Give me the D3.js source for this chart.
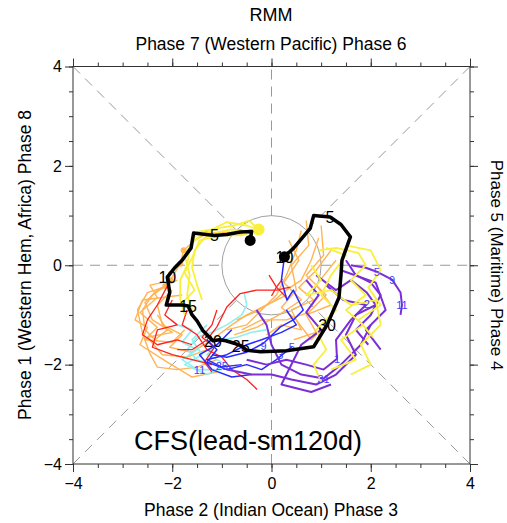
<!DOCTYPE html>
<html>
<head>
<meta charset="utf-8">
<script src="https://cdn.jsdelivr.net/npm/d3@7"></script>
<style>
  body { margin: 0; background: #fff; }
  svg { font-family: "Liberation Sans", Arial, sans-serif; }
</style>
</head>
<body>
<div id="chart"></div>
<script>
// observed RMM (black), days 1..31 then 1..10 of next month
var obs = [
  [-0.43,0.50],[-0.40,0.68],[-0.63,0.67],[-0.90,0.62],[-1.15,0.60],
  [-1.57,0.65],[-1.62,0.35],[-1.80,0.10],[-1.95,-0.05],[-2.10,-0.24],
  [-2.05,-0.55],[-2.12,-0.80],[-1.95,-0.80],[-1.80,-0.80],[-1.68,-0.82],
  [-1.60,-1.00],[-1.50,-1.12],[-1.38,-1.32],[-1.28,-1.42],[-1.18,-1.52],
  [-1.05,-1.50],[-0.92,-1.52],[-0.82,-1.55],[-0.72,-1.58],[-0.62,-1.62],
  [-0.50,-1.71],[-0.22,-1.74],[0.30,-1.72],[0.85,-1.64],[1.12,-1.20],
  [1.36,-0.65],[1.40,-0.20],[1.42,0.10],[1.59,0.57],[1.40,0.82],
  [1.18,0.97],[0.85,1.00],[0.78,0.74],[0.62,0.55],[0.45,0.35],[0.26,0.17]
];
var obsLabels = ["5","10","15","20","25","30","5","10"];
var obsLabelIdx = [4,9,14,19,24,29,35,40];

var orangeLines = [
  [[-0.35,0.72],[-0.63,0.67],[-1.0,0.66],[-1.3,0.64],[-1.55,0.5],[-1.77,0.3],[-1.84,0.03],[-2.04,-0.3],[-2.14,-0.42],[-2.4,-0.6],[-2.6,-0.9],[-2.55,-1.3],[-2.35,-1.5],[-2.1,-1.3],[-2.3,-1.0]],
  [[-2.05,-0.4],[-2.5,-0.55],[-2.7,-0.9],[-2.6,-1.37],[-2.45,-1.78],[-2.3,-2.05],[-1.9,-2.1],[-1.5,-2.05],[-1.1,-1.9]],
  [[-1.9,-0.3],[-2.3,-0.5],[-2.55,-0.75],[-2.4,-1.1],[-2.0,-1.35],[-2.5,-1.45],[-2.2,-1.8],[-1.7,-1.85],[-1.3,-1.7]],
  [[-2.0,-0.5],[-2.3,-0.8],[-2.2,-1.2],[-1.8,-1.4],[-2.05,-1.65],[-1.6,-1.75],[-1.2,-1.5],[-0.8,-1.2],[-0.5,-1.0],[-0.1,-0.8],[0.3,-0.6]],
  [[-1.8,-0.6],[-2.6,-0.7],[-2.75,-1.1],[-2.5,-1.25],[-2.65,-1.6],[-2.1,-1.95],[-1.6,-2.25],[-1.1,-2.15]],
  [[-2.2,-0.35],[-2.45,-0.4],[-2.3,-0.65],[-2.65,-0.95],[-2.3,-1.25],[-2.55,-1.5],[-2.0,-1.55],[-1.75,-1.3]],
  [[0.6,0.7],[0.5,0.3],[0.3,-0.2],[0.1,-0.6],[-0.2,-0.9],[-0.5,-1.2],[-0.9,-1.3]],
  [[0.95,0.55],[0.8,0.1],[0.6,-0.3],[0.3,-0.5],[0.0,-0.75],[-0.35,-0.95],[-0.7,-1.1]],
  [[1.2,0.3],[0.9,-0.1],[0.55,-0.45],[0.85,-0.7],[0.4,-0.9],[0.6,-1.3],[0.2,-1.2],[-0.1,-1.4]],
  [[0.7,0.9],[0.75,0.4],[0.4,0.0],[0.5,-0.5],[0.2,-0.85],[0.5,-1.1],[0.8,-1.5],[1.1,-1.2]],
  [[1.0,0.8],[1.05,0.2],[0.7,-0.2],[1.1,-0.6],[0.75,-0.95],[0.3,-1.1],[-0.2,-1.1],[-0.6,-1.3]],
  [[1.3,0.1],[0.9,-0.4],[1.2,-0.8],[0.7,-1.0],[0.9,-1.35],[0.45,-1.5]],
  [[0.35,0.5],[0.55,0.1],[0.25,-0.35],[0.6,-0.7],[0.15,-1.0],[-0.3,-1.25],[-0.75,-1.4]]
];
var orangeDots = [[-0.63,0.67],[-1.3,0.64],[-1.77,0.3],[-1.84,0.03],[-2.04,-0.3],[-2.14,-0.42]];

var cyanLines = [
  [[-0.55,-0.55],[-0.5,-0.8],[-0.6,-1.0],[-0.9,-1.2],[-1.2,-1.35],[-1.5,-1.45],[-1.7,-1.7],[-1.5,-1.9],[-1.2,-2.0]],
  [[-1.9,-1.2],[-1.6,-1.3],[-1.8,-1.55],[-1.5,-1.7],[-1.8,-1.9],[-1.5,-2.1],[-1.0,-2.1]],
  [[-1.3,-1.2],[-1.6,-1.5],[-1.4,-1.8],[-1.75,-2.0],[-1.3,-2.2],[-0.9,-2.0]],
  [[-0.1,-1.3],[-0.4,-1.35],[-0.7,-1.45],[-1.0,-1.5],[-1.3,-1.8],[-1.0,-1.95]]
];

var redLines = [
  [[0.38,-0.44],[0.1,-0.5],[-0.3,-0.5],[-0.63,-0.57],[-0.9,-0.84],[-1.1,-1.24],[-1.3,-1.5],[-1.6,-1.7],[-1.9,-1.7]],
  [[-0.05,-0.2],[0.1,-0.44],[0.3,-0.65]],
  [[0.0,-0.62],[0.1,-0.44],[0.22,-0.28]],
  [[-2.1,-0.42],[-2.3,-0.8],[-2.5,-1.1],[-2.6,-1.4],[-2.3,-1.6],[-1.9,-1.5],[-1.6,-1.6]],
  [[-2.0,-0.7],[-2.15,-1.0],[-1.9,-1.2],[-2.3,-1.3],[-2.4,-1.65],[-2.0,-1.8],[-1.6,-1.9],[-1.2,-2.0]],
  [[-1.7,-0.9],[-1.8,-1.2],[-1.5,-1.4],[-1.3,-1.7],[-1.0,-1.85],[-0.8,-2.1],[-0.5,-2.3],[-0.29,-2.5]],
  [[-1.1,-0.9],[-1.2,-1.2],[-1.4,-1.45],[-1.15,-1.65],[-1.35,-1.95],[-1.2,-2.15]]
];

var blueLines = [
  [[0.26,0.17],[0.2,-0.3],[0.31,-0.7],[0.44,-0.5],[0.64,-0.9],[0.44,-1.1],[0.18,-1.24],[-0.16,-1.57],[-0.5,-1.75],[-0.9,-1.85],[-1.2,-1.8]],
  [[0.3,-0.9],[0.5,-1.2],[0.2,-1.35],[-0.2,-1.5],[-0.5,-1.6],[-0.9,-1.8],[-1.3,-1.9],[-1.0,-2.05],[-0.6,-2.0]],
  [[-1.3,-1.5],[-1.1,-1.7],[-1.3,-1.95],[-0.9,-2.1],[-0.5,-2.0],[-0.2,-2.1],[0.1,-1.9],[0.41,-1.64]],
  [[-0.8,-1.3],[-1.1,-1.6],[-1.45,-1.8],[-1.2,-2.1],[-0.8,-2.25],[-0.4,-2.2]]
];

var purpleLines = [
  [[1.6,0.0],[1.9,-0.05],[2.12,-0.13],[2.43,-0.29],[2.6,-0.55],[2.63,-0.8],[2.6,-1.0]],
  [[0.9,-0.2],[1.3,-0.5],[1.6,-0.3],[1.92,-0.55],[2.1,-0.8],[1.7,-1.0],[1.5,-1.4],[1.7,-1.8],[1.3,-2.2],[0.9,-2.4],[0.4,-2.3],[0.0,-2.2],[-0.4,-2.2],[-0.9,-2.1]],
  [[1.1,-0.4],[1.45,-0.7],[1.9,-0.8],[1.6,-1.1],[1.3,-1.5],[1.32,-1.88],[1.05,-2.1],[0.7,-2.0],[0.3,-1.9],[-0.1,-2.0],[-0.5,-1.9]],
  [[-0.3,-0.9],[-0.1,-1.2],[0.0,-1.6],[0.2,-2.0],[0.6,-2.2],[1.05,-2.28],[1.4,-2.0],[1.8,-1.6],[2.0,-1.2]],
  [[1.5,0.1],[1.7,-0.2],[2.0,-0.35],[2.2,-0.6],[2.0,-1.0],[1.7,-1.3],[1.95,-1.6]],
  [[0.7,-0.3],[0.95,-0.6],[0.7,-0.95],[1.0,-1.3],[0.6,-1.6],[0.2,-2.4],[0.8,-2.55],[1.2,-2.4]],
  [[1.4,-0.1],[2.1,-0.35],[2.3,-0.9],[1.9,-1.3],[2.2,-1.7]]
];

var yellowLines = [
  [[-0.26,0.72],[-0.5,0.80],[-0.9,0.87],[-1.2,0.72],[-1.5,0.67],[-1.65,0.35],[-1.7,0.0],[-1.84,-0.3],[-1.84,-0.7],[-1.75,-1.0]],
  [[-0.26,0.72],[-0.55,0.68],[-0.8,0.72],[-1.1,0.66],[-1.35,0.55],[-1.55,0.3],[-1.6,-0.05],[-1.5,-0.4],[-1.4,-0.7]],
  [[-0.26,0.72],[-0.45,0.9],[-0.75,0.8],[-1.05,0.75],[-1.4,0.62],[-1.6,0.45],[-1.75,0.2],[-1.65,-0.2],[-1.7,-0.6],[-1.6,-0.9]],
  [[-0.26,0.72],[-0.6,0.6],[-1.0,0.6],[-1.45,0.5],[-1.6,0.15],[-1.75,-0.15],[-1.55,-0.5],[-1.8,-0.75]],
  [[0.95,0.30],[1.3,0.35],[1.75,0.25],[1.9,0.0],[1.6,-0.3],[1.9,-0.6],[1.5,-0.9],[1.85,-1.2],[1.4,-1.5],[1.7,-1.9],[1.2,-2.1]],
  [[1.1,0.35],[1.5,0.2],[1.2,-0.2],[1.0,-0.6],[1.3,-0.9],[0.9,-1.3],[1.1,-1.7],[0.85,-2.0],[1.0,-2.35]],
  [[0.8,0.0],[1.0,-0.3],[0.7,-0.6],[1.2,-0.5],[1.6,-0.8],[2.1,-0.7],[2.2,-1.2],[1.8,-1.6],[2.0,-2.0],[1.6,-2.2]],
  [[1.5,0.4],[2.0,0.3],[2.2,-0.1],[1.95,-0.45],[2.2,-0.8],[1.75,-1.1],[2.05,-1.45]]
];

var dayLabels = [
  {t:"5",p:[2.12,-0.13]},{t:"9",p:[2.43,-0.29]},{t:"11",p:[2.63,-0.8]},
  {t:"2",p:[1.92,-0.77]},{t:"1",p:[1.32,-1.88]},{t:"31",p:[1.05,-2.28]},
  {t:"5",p:[0.41,-1.64]},{t:"3",p:[0.18,-1.80]},{t:"9",p:[-0.16,-1.62]},
  {t:"25",p:[-1.0,-2.02]},{t:"11",p:[-1.45,-2.1]}
];

var ticks = [-4,-2,0,2,4];
var minorTicks = d3.range(-4, 4.01, 0.5);

var W = 507, H = 523;
var svg = d3.select("#chart").append("svg").attr("width", W).attr("height", H);

var x = d3.scaleLinear().domain([-4,4]).range([73,470]);
var y = d3.scaleLinear().domain([-4,4]).range([464,66.5]);

// titles
svg.append("text").attr("x",271).attr("y",21).attr("text-anchor","middle")
  .style("font-size","18px").text("RMM");
svg.append("text").attr("x",271).attr("y",50).attr("text-anchor","middle")
  .style("font-size","17.5px").text("Phase 7 (Western Pacific) Phase 6");
svg.append("text").attr("x",271).attr("y",516).attr("text-anchor","middle")
  .style("font-size","17.5px").text("Phase 2 (Indian Ocean) Phase 3");
svg.append("text").attr("transform","translate(31,265) rotate(-90)").attr("text-anchor","middle")
  .style("font-size","17.5px").text("Phase 1 (Western Hem, Africa) Phase 8");
svg.append("text").attr("transform","translate(491,265) rotate(90)").attr("text-anchor","middle")
  .style("font-size","17px").text("Phase 5 (Maritime) Phase 4");

// dashed guides stopping at the unit circle
var c45 = Math.SQRT1_2;
var guides = [
  [[-4,0],[-1,0]],[[1,0],[4,0]],[[0,-4],[0,-1]],[[0,1],[0,4]],
  [[-4,-4],[-c45,-c45]],[[c45,c45],[4,4]],[[-4,4],[-c45,c45]],[[c45,-c45],[4,-4]]
];
svg.append("g").selectAll("line").data(guides).enter().append("line")
  .attr("x1",d=>x(d[0][0])).attr("y1",d=>y(d[0][1]))
  .attr("x2",d=>x(d[1][0])).attr("y2",d=>y(d[1][1]))
  .attr("stroke","#999").attr("stroke-width",1).attr("stroke-dasharray","10,7");

svg.append("circle").attr("cx",x(0)).attr("cy",y(0)).attr("r",x(1)-x(0))
  .attr("fill","none").attr("stroke","#888").attr("stroke-width",0.8);

var line = d3.line().x(d=>x(d[0])).y(d=>y(d[1]));

function drawSet(data, color, w) {
  svg.append("g").selectAll("path").data(data).enter().append("path")
    .attr("d", line).attr("fill","none").attr("stroke",color)
    .attr("stroke-width",w).attr("stroke-linejoin","round");
}

drawSet(orangeLines, "#ffb455", 1.4);
svg.append("g").selectAll("circle").data(orangeDots).enter().append("circle")
  .attr("cx",d=>x(d[0])).attr("cy",d=>y(d[1])).attr("r",3).attr("fill","#ffb455");
drawSet(cyanLines, "#8ef0f0", 1.6);
drawSet(redLines, "#ff2020", 1.3);
drawSet(blueLines, "#2a2aff", 1.5);
drawSet(purpleLines, "#7a2fd6", 2);
drawSet(yellowLines, "#f8f03c", 1.8);

svg.append("circle").attr("cx",x(-0.26)).attr("cy",y(0.72)).attr("r",6).attr("fill","#f8f03c");

svg.append("g").selectAll("text").data(dayLabels).enter().append("text")
  .attr("x",d=>x(d.p[0])).attr("y",d=>y(d.p[1])+4).attr("text-anchor","middle")
  .style("font-size","11px").attr("fill","#4040ff").text(d=>d.t);

// observed track
svg.append("path").datum(obs).attr("d",line).attr("fill","none")
  .attr("stroke","#000").attr("stroke-width",3.5).attr("stroke-linejoin","round");
svg.append("circle").attr("cx",x(obs[0][0])).attr("cy",y(obs[0][1])).attr("r",5.5).attr("fill","#000");
svg.append("circle").attr("cx",x(obs[obs.length-1][0])).attr("cy",y(obs[obs.length-1][1])).attr("r",5.5).attr("fill","#000");
svg.append("g").selectAll("text").data(obsLabelIdx).enter().append("text")
  .attr("x",d=>x(obs[d][0])).attr("y",d=>y(obs[d][1])+6).attr("text-anchor","middle")
  .style("font-size","16px").attr("fill","#000").text((d,i)=>obsLabels[i]);

svg.append("text").attr("x",248).attr("y",450).attr("text-anchor","middle")
  .style("font-size","27px").text("CFS(lead-sm120d)");

// frame and axes
svg.append("rect").attr("x",x(-4)).attr("y",y(4)).attr("width",x(4)-x(-4)).attr("height",y(-4)-y(4))
  .attr("fill","none").attr("stroke","#333").attr("stroke-width",1);

function axisPair(gen, tf, labels) {
  var gMin = svg.append("g").attr("transform",tf).call(gen(minorTicks).tickSize(4).tickFormat(""));
  var gMaj = svg.append("g").attr("transform",tf).call(gen(ticks).tickSize(8).tickFormat(labels ? d3.format("d") : ""));
  [gMin,gMaj].forEach(g => { g.select(".domain").remove(); g.selectAll("line").attr("stroke","#333"); });
  gMaj.selectAll("text").style("font-size","16px").attr("fill","#000")
    .style("font-family","'Liberation Sans', Arial, sans-serif");
  return gMaj;
}
axisPair(v => d3.axisBottom(x).tickValues(v), "translate(0,"+y(-4)+")", true).selectAll("text").attr("dy","0.9em");
axisPair(v => d3.axisLeft(y).tickValues(v), "translate("+x(-4)+",0)", true);
axisPair(v => d3.axisTop(x).tickValues(v), "translate(0,"+y(4)+")", false);
axisPair(v => d3.axisRight(y).tickValues(v), "translate("+x(4)+",0)", false);
</script>
</body>
</html>
